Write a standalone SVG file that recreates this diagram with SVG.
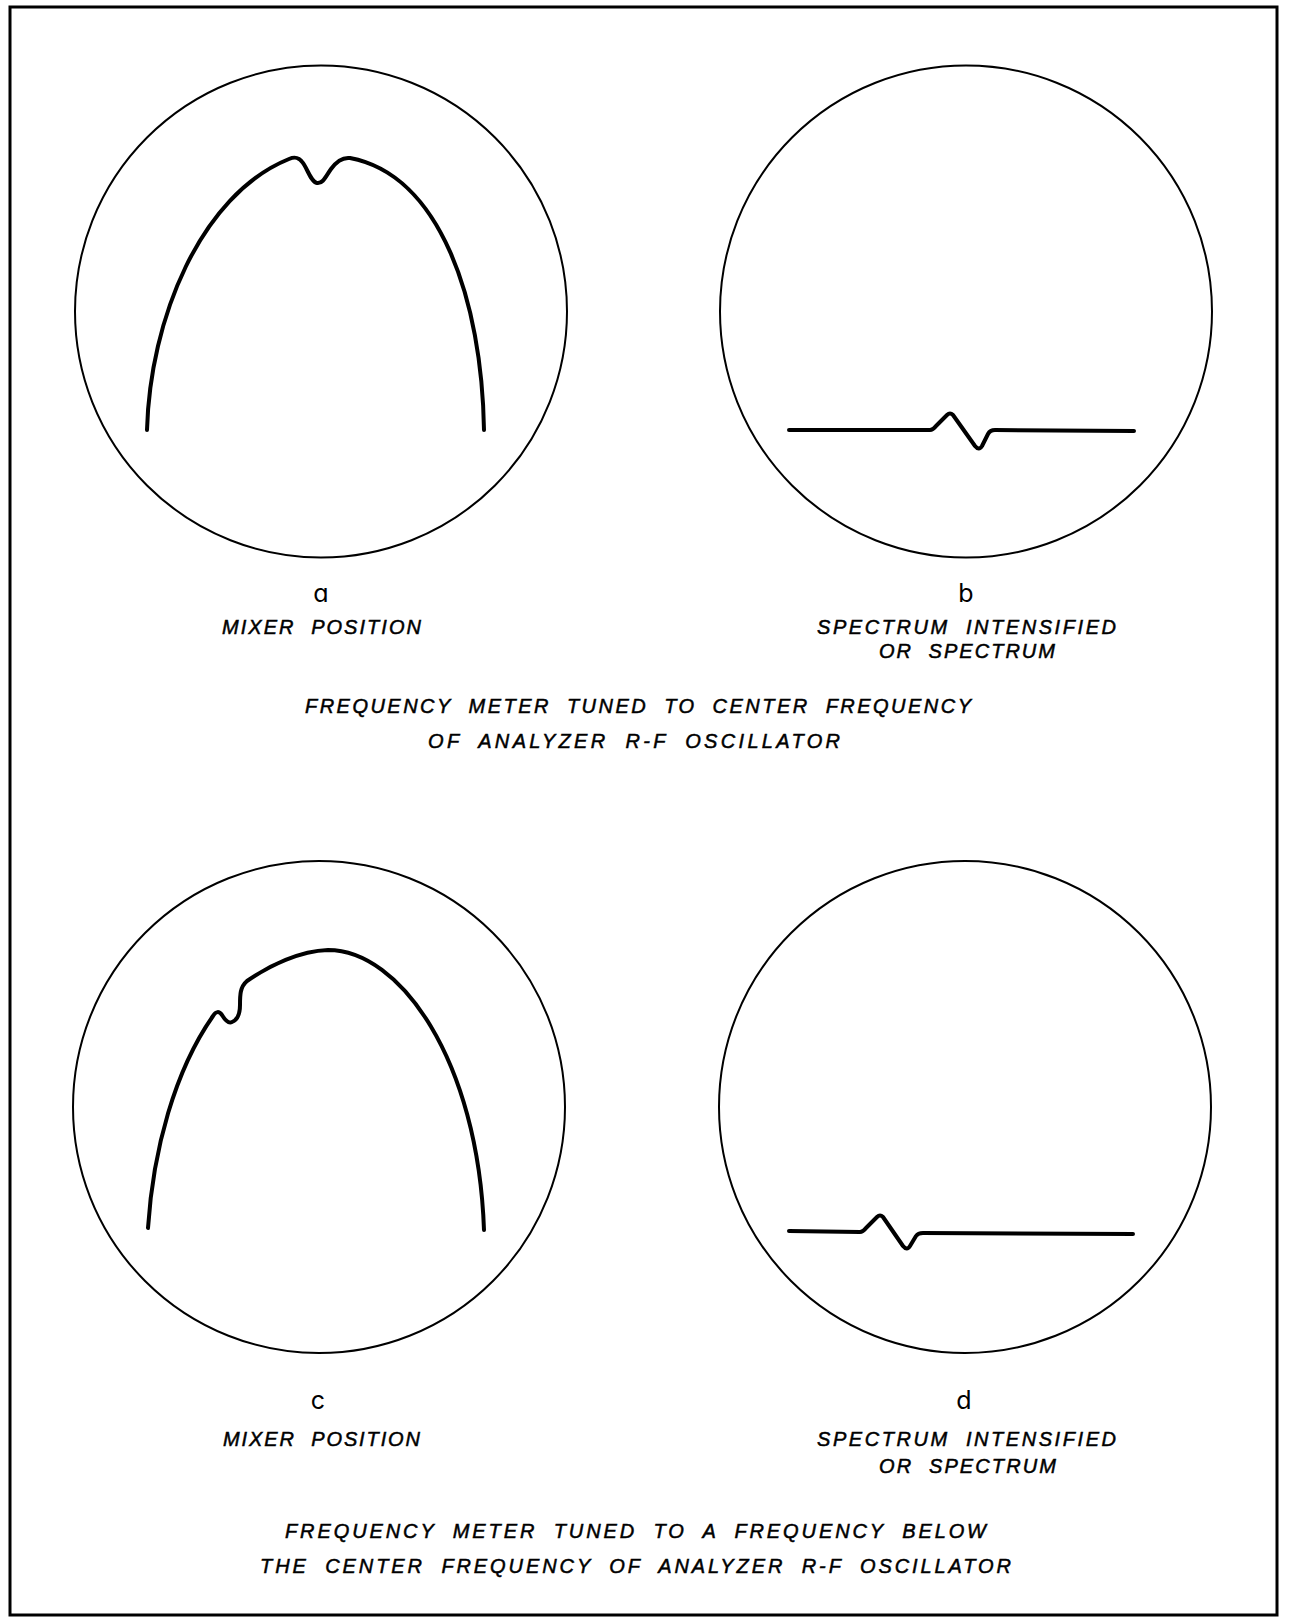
<svg xmlns="http://www.w3.org/2000/svg" width="1290" height="1618" viewBox="0 0 1290 1618">
<style>
.screen{fill:none;stroke:#000;stroke-width:2}
.trace{fill:none;stroke:#000;stroke-width:4;stroke-linecap:round;stroke-linejoin:round}
.cap{font-family:"Liberation Sans",Arial,sans-serif;font-style:italic;font-size:20px;fill:#000;stroke:#000;stroke-width:0.5;letter-spacing:1px;word-spacing:8px}
.ltr{font-family:Inter,"Liberation Sans",sans-serif;font-size:25px;fill:#000;text-anchor:middle;font-feature-settings:"cv11"}
</style>
<rect width="1290" height="1618" fill="#fff"/>
<rect x="10" y="7" width="1267" height="1608" fill="none" stroke="#000" stroke-width="3"/>

<g id="panel-a">
<circle class="screen" cx="321" cy="311.5" r="246"/>
<path class="trace" d="M147,430 C150,320 200,195 289,159 C295,156.5 299,157 303,163 C307,168 311,182 317,183 C323,184 326,176 331,169 C336,162 342,157 350,158 C440,175 482,300 484,430"/>
<text class="ltr" x="321" y="602">a</text>
<text class="cap" x="222" y="634" textLength="200" lengthAdjust="spacing">MIXER POSITION</text>
</g>

<g id="panel-b">
<circle class="screen" cx="966" cy="311.5" r="246"/>
<path class="trace" d="M789,430 L930,430 Q933,430 936,426 L947,415 Q950,412 953,415 L975,446 Q979,451 982,446 L988,434 Q990,430 995,430 L1134,431"/>
<text class="ltr" x="966" y="602">b</text>
<text class="cap" x="817" y="634" textLength="300" lengthAdjust="spacing">SPECTRUM  INTENSIFIED</text>
<text class="cap" x="879" y="658" textLength="177" lengthAdjust="spacing">OR SPECTRUM</text>
</g>

<g id="caption-top">
<text class="cap" x="305" y="713" textLength="667" lengthAdjust="spacing">FREQUENCY METER TUNED TO CENTER FREQUENCY</text>
<text class="cap" x="428" y="748" textLength="413" lengthAdjust="spacing">OF ANALYZER R-F OSCILLATOR</text>
</g>

<g id="panel-c">
<circle class="screen" cx="319" cy="1107" r="246"/>
<path class="trace" d="M148,1228 C153,1150 175,1070 213,1016 C216,1011 219,1011 222,1015 C225,1020 228,1024 232,1022 C237,1020 240,1015 240,1005 C240,995 240,987 247,981 C270,965 300,951 328,950 C400,950 478,1060 484,1230"/>
<text class="ltr" x="318" y="1409">c</text>
<text class="cap" x="223" y="1446" textLength="198" lengthAdjust="spacing">MIXER POSITION</text>
</g>

<g id="panel-d">
<circle class="screen" cx="965" cy="1107" r="246"/>
<path class="trace" d="M789,1231 L860,1232 Q863,1232 866,1228 L877,1217 Q880,1214 883,1217 L903,1246 Q907,1251 910,1246 L916,1236 Q918,1233 923,1233 L1133,1234"/>
<text class="ltr" x="964" y="1409">d</text>
<text class="cap" x="817" y="1446" textLength="300" lengthAdjust="spacing">SPECTRUM INTENSIFIED</text>
<text class="cap" x="879" y="1473" textLength="178" lengthAdjust="spacing">OR SPECTRUM</text>
</g>

<g id="caption-bottom">
<text class="cap" x="285" y="1538" textLength="702" lengthAdjust="spacing">FREQUENCY METER TUNED TO A FREQUENCY BELOW</text>
<text class="cap" x="260" y="1573" textLength="752" lengthAdjust="spacing">THE CENTER FREQUENCY OF ANALYZER R-F OSCILLATOR</text>
</g>
</svg>
